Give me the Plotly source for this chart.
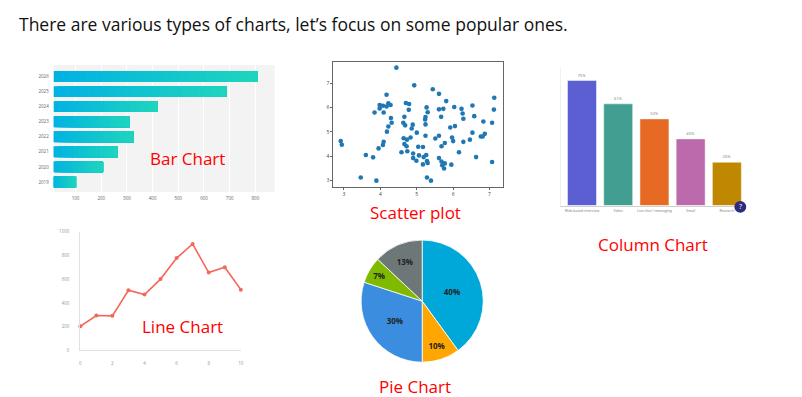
import plotly.graph_objects as go

W, H = 802, 397


def px_x(p):
    return p / W


def px_y(p):
    return 1 - p / H


# ---------------- data ----------------
title_text = "There are various types of charts, let’s focus on some popular ones."

bar_years = ["2019", "2020", "2021", "2022", "2023", "2024", "2025", "2026"]
bar_values = [101, 207, 264, 325, 309, 419, 687, 809]
bar_ticks = [100, 200, 300, 400, 500, 600, 700, 800]

scatter_x = [4.44, 4.93, 4.17, 5.44, 5.61, 5.81, 7.13, 3.98, 4.07, 4.17,
             4.22, 4.28, 3.98, 3.84, 4.09, 4.70, 4.79, 5.27, 4.78, 5.30,
             5.61, 5.73, 6.03, 6.23, 6.26, 6.28, 6.53, 6.58, 7.12, 5.67,
             4.66, 4.29, 4.31, 4.22, 4.18, 4.63, 4.68, 4.89, 5.24, 5.23,
             5.24, 4.86, 5.00, 5.24, 5.61, 5.51, 5.92, 6.05, 6.83, 7.07,
             6.53, 6.87, 6.76, 6.81, 6.46, 6.28, 5.97, 6.00, 5.77, 5.68,
             4.83, 4.64, 4.73, 4.66, 4.72, 5.04, 5.17, 4.09, 4.07, 3.95,
             2.91, 2.94, 4.58, 4.74, 4.90, 3.60, 3.80, 5.06, 5.26, 5.19,
             4.90, 4.99, 5.28, 5.30, 5.17, 5.61, 5.68, 5.77, 5.70, 5.75,
             5.95, 6.16, 6.63, 7.07, 3.46, 3.89, 5.28, 5.39]
scatter_y = [7.65, 6.92, 6.53, 6.76, 6.57, 6.27, 6.41, 6.11, 6.08, 6.05,
             6.18, 6.11, 5.97, 5.80, 5.80, 6.19, 6.15, 6.01, 5.91, 5.81,
             5.93, 5.95, 6.03, 5.95, 5.76, 5.54, 6.09, 5.65, 5.92, 5.62,
             5.62, 5.57, 5.38, 5.22, 5.01, 5.38, 5.27, 5.30, 5.61, 5.51,
             5.31, 5.14, 4.97, 4.84, 4.84, 4.73, 5.18, 5.24, 5.43, 5.38,
             4.97, 4.92, 4.81, 4.81, 4.68, 4.59, 4.77, 4.62, 4.54, 4.41,
             4.77, 4.74, 4.68, 4.50, 4.41, 4.39, 4.38, 4.59, 4.46, 4.32,
             4.62, 4.47, 4.16, 4.20, 4.11, 4.05, 3.95, 4.03, 4.05, 3.96,
             3.92, 3.81, 3.80, 3.72, 3.66, 3.92, 3.78, 3.70, 3.62, 3.49,
             3.65, 4.16, 3.96, 3.76, 3.12, 2.99, 3.12, 2.99]
scatter_ticks = [3, 4, 5, 6, 7]

col_categories = ["Web-based interview", "Video", "Live chat / messaging", "Email", "Research"]
col_values = [75, 61, 52, 40, 26]
col_labels = ["75%", "61%", "52%", "40%", "26%"]
col_colors = ["#5b5fd1", "#439e92", "#e76a24", "#bc6aab", "#c08800"]

line_x = [0, 1, 2, 3, 4, 5, 6, 7, 8, 9, 10]
line_y = [203, 294, 291, 507, 471, 601, 778, 897, 656, 701, 512]
line_xticks = [0, 2, 4, 6, 8, 10]
line_yticks = [0, 200, 400, 600, 800, 1000]

pie_labels = ["40%", "10%", "30%", "7%", "13%"]
pie_values = [40, 10, 30, 7, 13]
pie_colors = ["#00a8d9", "#ffa600", "#3b8de0", "#7fba00", "#6e7777"]

chart_names = ["Bar Chart", "Scatter plot", "Column Chart", "Line Chart", "Pie Chart"]

# ---------------- figure ----------------
fig = go.Figure()

# Bar chart with per-bar horizontal gradient (overlapping slices from data)
c0 = (0, 178, 226)
c1 = (30, 212, 190)
N = 24
for k in range(N):
    t = k / (N - 1)
    col = "rgb(%d,%d,%d)" % tuple(round(a + (b - a) * t) for a, b in zip(c0, c1))
    fig.add_trace(go.Bar(
        y=bar_years,
        x=[v - v * k / N for v in bar_values],
        base=[v * k / N for v in bar_values],
        orientation="h", width=0.72,
        marker=dict(color=col, line=dict(width=0)),
        xaxis="x", yaxis="y", hoverinfo="skip", showlegend=False,
    ))

# Scatter
fig.add_trace(go.Scatter(
    x=scatter_x, y=scatter_y, mode="markers",
    marker=dict(color="#1f77b4", size=4.6),
    xaxis="x2", yaxis="y2", showlegend=False,
))

# Column chart
fig.add_trace(go.Bar(
    x=col_categories, y=col_values, text=col_labels,
    textposition="outside", textfont=dict(size=4, color="#777"),
    marker=dict(color=col_colors, line=dict(color="rgba(255,255,255,0.6)", width=0.8)),
    width=0.8, cliponaxis=False,
    xaxis="x3", yaxis="y3", showlegend=False,
))

# Line chart
fig.add_trace(go.Scatter(
    x=line_x, y=line_y, mode="lines+markers",
    line=dict(color="#f2685a", width=1.6),
    marker=dict(color="#f2685a", size=4),
    cliponaxis=False,
    xaxis="x4", yaxis="y4", showlegend=False,
))

# Pie chart
fig.add_trace(go.Pie(
    values=pie_values, text=pie_labels, textinfo="text",
    texttemplate="<b>%{text}</b>",
    sort=False, direction="clockwise", rotation=0,
    marker=dict(colors=pie_colors, line=dict(color="white", width=0.8)),
    textposition="inside", insidetextorientation="horizontal",
    textfont=dict(size=8, color="#222", family="Open Sans"),
    domain=dict(x=[px_x(361.3), px_x(485.3)], y=[px_y(364.7), px_y(240.7)]),
    showlegend=False,
))

tickfont_small = dict(size=4.5, color="#666", family="Open Sans")

fig.update_layout(
    width=W, height=H,
    margin=dict(l=0, r=0, t=0, b=0),
    paper_bgcolor="white", plot_bgcolor="white",
    barmode="overlay", showlegend=False,
    font=dict(family="Open Sans"),
    xaxis=dict(domain=[px_x(53), px_x(275)], range=[15, 875], anchor="y",
               tickvals=bar_ticks, showgrid=True, gridcolor="white", gridwidth=1,
               zeroline=False, showline=False, ticks="", tickfont=tickfont_small,
               ticklabelstandoff=2),
    yaxis=dict(domain=[px_y(192), px_y(63)], range=[-0.67, 7.76], anchor="x",
               type="category", categoryarray=bar_years, showgrid=False,
               zeroline=False, ticks="", tickfont=tickfont_small, ticklabelstandoff=4),
    xaxis2=dict(domain=[px_x(334), px_x(505)], range=[2.707, 7.383], anchor="y2",
                tickvals=scatter_ticks, showgrid=False, zeroline=False,
                showline=True, mirror=True, linecolor="#666", linewidth=1,
                ticks="outside", ticklen=2, tickcolor="#666",
                tickfont=dict(size=5, color="#444")),
    yaxis2=dict(domain=[px_y(187), px_y(60)], range=[2.72, 7.88], anchor="x2",
                tickvals=scatter_ticks, showgrid=False, zeroline=False,
                showline=True, mirror=True, linecolor="#666", linewidth=1,
                ticks="outside", ticklen=2, tickcolor="#666",
                tickfont=dict(size=5, color="#444")),
    xaxis3=dict(domain=[px_x(563), px_x(748)], range=[-0.574, 4.508], anchor="y3",
                type="category", showgrid=False, zeroline=False,
                showline=True, linecolor="#d0d0d0", linewidth=1, ticks="",
                tickfont=dict(size=3.5, color="#777"), ticklabelstandoff=1),
    yaxis3=dict(domain=[px_y(205.7), px_y(65)], range=[0, 83.1], anchor="x3",
                showgrid=False, zeroline=False, showticklabels=False,
                showline=True, linecolor="#f0f0f0", linewidth=1, ticks=""),
    xaxis4=dict(domain=[px_x(79.7), px_x(241)], range=[0, 10], anchor="y4",
                tickvals=line_xticks, showgrid=False, zeroline=False,
                showline=True, linecolor="#e2e2e2", linewidth=1, ticks="",
                tickfont=dict(size=4.5, color="#999"), ticklabelstandoff=8),
    yaxis4=dict(domain=[px_y(352.7), px_y(232.3)], range=[0, 1000], anchor="x4",
                tickvals=line_yticks, showgrid=False, zeroline=False,
                showline=True, linecolor="#e2e2e2", linewidth=1, ticks="",
                tickfont=dict(size=4.5, color="#999"), ticklabelstandoff=9),
)

# gray plot background of the bar chart
fig.add_shape(type="rect", xref="x domain", yref="y domain", x0=0, x1=1, y0=0, y1=1,
              fillcolor="#f3f3f3", line=dict(width=0), layer="below")

# help icon near column chart
fig.add_shape(type="circle", xref="paper", yref="paper",
              x0=px_x(737), x1=px_x(749), y0=px_y(213), y1=px_y(201),
              fillcolor="#2e2a80", line=dict(width=0))
fig.add_annotation(text="?", xref="paper", yref="paper", x=px_x(743), y=px_y(207),
                   showarrow=False, font=dict(size=7, color="white"),
                   xanchor="center", yanchor="middle")

# title
fig.add_annotation(text=title_text, xref="paper", yref="paper",
                   x=px_x(16), y=px_y(21), xanchor="left", yanchor="middle",
                   showarrow=False, font=dict(size=17.5, color="#111", family="Open Sans"))

# red chart names
name_pos = [(187, 158), (417, 213), (655, 245), (182, 328), (416, 389)]
for name, (cx, cy) in zip(chart_names, name_pos):
    fig.add_annotation(text=name, xref="paper", yref="paper",
                       x=px_x(cx), y=px_y(cy), xanchor="center", yanchor="middle",
                       showarrow=False, font=dict(size=17, color="#ff0000", family="Open Sans"))

fig.write_html("out.html")
